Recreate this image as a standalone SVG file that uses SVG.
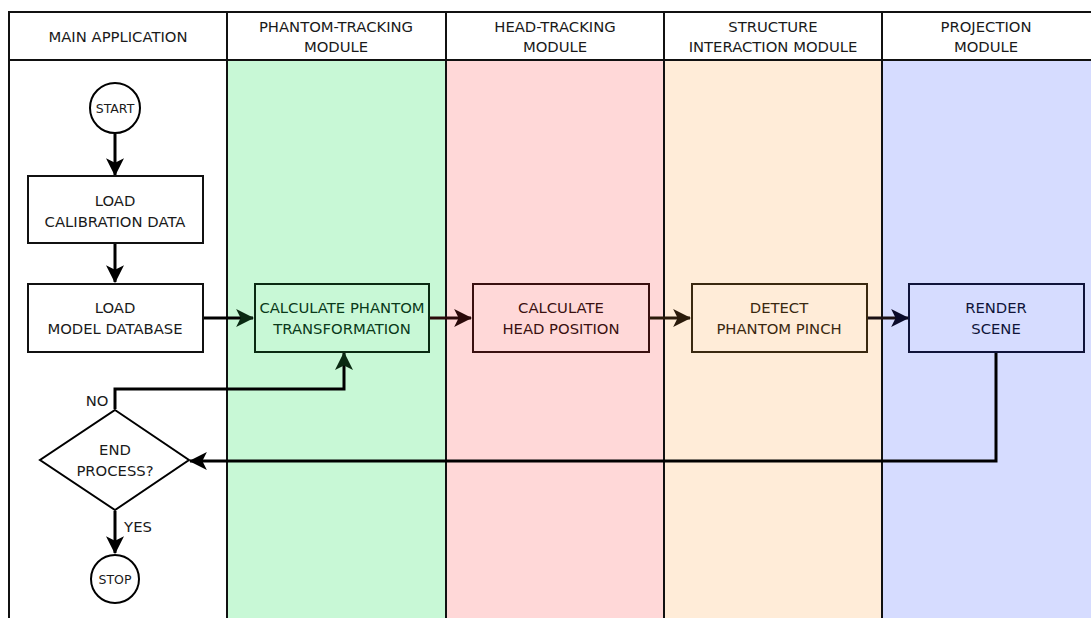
<svg xmlns="http://www.w3.org/2000/svg" width="1091" height="618" viewBox="0 0 1091 618">
<style>
text{font-family:"DejaVu Sans","Liberation Sans",sans-serif;font-size:14.8px;text-anchor:middle;fill:#1a1a1a}
.hdr{fill:#ffffff;stroke:#111;stroke-width:2}
.lane{stroke:#111;stroke-width:2}
.box{stroke-width:2}
.conn{fill:none;stroke-width:3}
.sm{font-size:12.5px}
</style>
<defs>
<marker id="ahk" viewBox="0 0 16 16" refX="15" refY="8" markerWidth="18" markerHeight="18" markerUnits="userSpaceOnUse" orient="auto">
<path d="M0,0 L16,8 L0,16 L4,8 Z" fill="#000"/>
</marker>
<marker id="ahr" viewBox="0 0 16 16" refX="15" refY="8" markerWidth="18" markerHeight="18" markerUnits="userSpaceOnUse" orient="auto">
<path d="M0,0 L16,8 L0,16 L4,8 Z" fill="#2a0a0a"/>
</marker>
<marker id="aho" viewBox="0 0 16 16" refX="15" refY="8" markerWidth="18" markerHeight="18" markerUnits="userSpaceOnUse" orient="auto">
<path d="M0,0 L16,8 L0,16 L4,8 Z" fill="#2a1a0a"/>
</marker>
<marker id="ahb" viewBox="0 0 16 16" refX="15" refY="8" markerWidth="18" markerHeight="18" markerUnits="userSpaceOnUse" orient="auto">
<path d="M0,0 L16,8 L0,16 L4,8 Z" fill="#0a0a2a"/>
</marker>
<marker id="ahg" viewBox="0 0 16 16" refX="15" refY="8" markerWidth="18" markerHeight="18" markerUnits="userSpaceOnUse" orient="auto">
<path d="M0,0 L16,8 L0,16 L4,8 Z" fill="#0a2a12"/>
</marker>
</defs>
<rect width="1091" height="618" fill="#ffffff"/>
<g id="lanes">
<rect class="lane" x="9" y="60" width="218" height="570" fill="#ffffff"/>
<rect class="lane" x="227" y="60" width="219" height="570" fill="#c8f8d6" stroke="#0a2a12"/>
<rect class="lane" x="446" y="60" width="218" height="570" fill="#ffd8d8" stroke="#2a0a0a"/>
<rect class="lane" x="664" y="60" width="218" height="570" fill="#ffecd8" stroke="#2a1a0a"/>
<rect class="lane" x="882" y="60" width="220" height="570" fill="#d6dcff" stroke="#0a0a2a"/>
<rect class="hdr" x="9" y="12" width="218" height="48"/>
<rect class="hdr" x="227" y="12" width="219" height="48"/>
<rect class="hdr" x="446" y="12" width="218" height="48"/>
<rect class="hdr" x="664" y="12" width="218" height="48"/>
<rect class="hdr" x="882" y="12" width="220" height="48"/>
<text x="118" y="42">MAIN APPLICATION</text>
<text x="336" y="32">PHANTOM-TRACKING</text>
<text x="336" y="52">MODULE</text>
<text x="555" y="32">HEAD-TRACKING</text>
<text x="555" y="52">MODULE</text>
<text x="773" y="32">STRUCTURE</text>
<text x="773" y="52">INTERACTION MODULE</text>
<text x="986" y="32">PROJECTION</text>
<text x="986" y="52">MODULE</text>
</g>
<g id="connectors">
<path class="conn" d="M115,134 L115,175" stroke="#000" marker-end="url(#ahk)"/>
<path class="conn" d="M115,244 L115,282" stroke="#000" marker-end="url(#ahk)"/>
<path class="conn" d="M204,318 L253,318" stroke="#000" marker-end="url(#ahg)"/>
<path class="conn" d="M430,318 L471,318" stroke="#2a0a0a" marker-end="url(#ahr)"/>
<path class="conn" d="M650,318 L690,318" stroke="#2a1a0a" marker-end="url(#aho)"/>
<path class="conn" d="M868,318 L908,318" stroke="#1a1014" marker-end="url(#ahb)"/>
<path class="conn" d="M996,353 L996,461 L190,461" stroke="#000" marker-end="url(#ahk)"/>
<path class="conn" d="M115,409 L115,389 L344,389 L344,353" stroke="#000" marker-end="url(#ahg)"/>
<path class="conn" d="M115,511 L115,553" stroke="#000" marker-end="url(#ahk)"/>
<text x="97" y="406">NO</text>
<text x="138" y="532">YES</text>
</g>
<g id="start">
<circle cx="115" cy="108" r="25" fill="#fff" stroke="#000" stroke-width="2"/>
<text x="115" y="113" class="sm">START</text>
</g>
<g id="load-calibration">
<rect class="box" x="28" y="176" width="175" height="67" fill="#fff" stroke="#111"/>
<text x="115" y="206">LOAD</text>
<text x="115" y="227">CALIBRATION DATA</text>
</g>
<g id="load-model">
<rect class="box" x="28" y="284" width="175" height="68" fill="#fff" stroke="#111"/>
<text x="115" y="313">LOAD</text>
<text x="115" y="334">MODEL DATABASE</text>
</g>
<g id="calc-phantom">
<rect class="box" x="255" y="284" width="174" height="68" fill="#c8f8d6" stroke="#0a2a12"/>
<text x="342" y="313" style="fill:#0a3a1a">CALCULATE PHANTOM</text>
<text x="342" y="334" style="fill:#0a3a1a">TRANSFORMATION</text>
</g>
<g id="calc-head">
<rect class="box" x="473" y="284" width="176" height="68" fill="#ffd8d8" stroke="#3a1010"/>
<text x="561" y="313" style="fill:#3a1010">CALCULATE</text>
<text x="561" y="334" style="fill:#3a1010">HEAD POSITION</text>
</g>
<g id="detect-pinch">
<rect class="box" x="692" y="284" width="175" height="68" fill="#ffecd8" stroke="#3a2810"/>
<text x="779" y="313" style="fill:#3a2810">DETECT</text>
<text x="779" y="334" style="fill:#3a2810">PHANTOM PINCH</text>
</g>
<g id="render-scene">
<rect class="box" x="909" y="284" width="175" height="68" fill="#d6dcff" stroke="#10143a"/>
<text x="996" y="313" style="fill:#10143a">RENDER</text>
<text x="996" y="334" style="fill:#10143a">SCENE</text>
</g>
<g id="end-process">
<path d="M115,410 L189,460 L115,510 L40,460 Z" fill="#fff" stroke="#000" stroke-width="2"/>
<text x="115" y="455">END</text>
<text x="115" y="476">PROCESS?</text>
</g>
<g id="stop">
<circle cx="115" cy="579" r="24" fill="#fff" stroke="#000" stroke-width="2"/>
<text x="115" y="584" class="sm">STOP</text>
</g>
</svg>
